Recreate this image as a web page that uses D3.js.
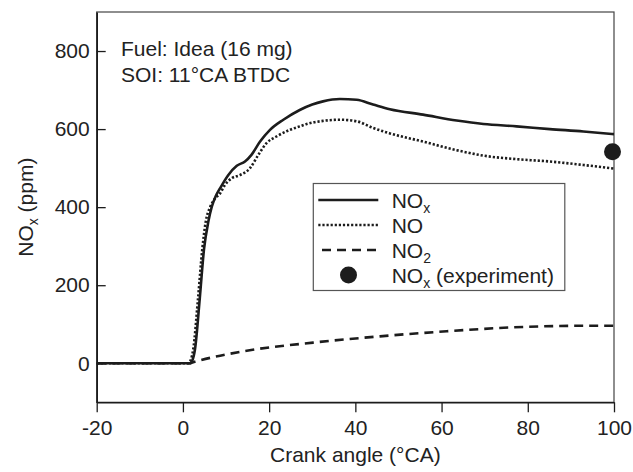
<!DOCTYPE html>
<html><head><meta charset="utf-8">
<script src="https://cdn.jsdelivr.net/npm/d3@7"></script>
<style>
body{margin:0;background:#fff;}
text{font-family:"Liberation Sans",Arial,Helvetica,sans-serif;fill:#222;}
</style></head>
<body><svg id="c" width="633" height="472"></svg>
<script>
// ---- data ----
const xTicks = [-20, 0, 20, 40, 60, 80, 100];
const yTicks = [0, 200, 400, 600, 800];
const noxAngle = [-20,1.6,2.2,2.8,3.9,4.9,5.9,6.7,7.6,8.6,10.5,12.5,14.4,15.9,17.9,20.2,23.3,27.1,30,32.5,36.4,40.3,44.1,48,55.7,63.5,69.7,77.4,85.1,92.9,100];
const noxValue = [0,0,8,36,165,293,363,401,428,448,482,506,517,534,568,598,624,649,663,671,677,675,663,651,637,622,613,607,600,594,587];
const noAngle = [-20,1.2,1.8,2.4,3.5,4.5,5.3,6.3,7.3,8.6,9.7,11.3,13.2,15.5,17.5,19.4,21.7,24.8,27.1,28.7,32.5,36.4,40.3,44.1,48,55.7,63.5,69.7,77.4,85.1,92.9,100];
const noValue = [0,0,8,36,165,293,363,400,420,435,456,474,482,499,534,564,581,598,607,613,621,624,620,603,589,568,546,532,523,517,508,499];
const no2Angle = [-20,1.6,2.2,14.8,30.2,45.7,61.2,76.6,92.1,100];
const no2Value = [0,0,2,32,53,69,82,92,96,96];
const expAngle = [100];
const expValue = [542];

// ---- layout ----
const L = 96.7, R = 614, T = 12, B = 402.3;
const svg = d3.select("#c");
const x = d3.scaleLinear().domain([-20, 100]).range([L, R]);
const y = d3.scaleLinear().domain([-100, 900]).range([B, T]);
const ink = "#1c1c1c";

// frame
svg.append("rect").attr("x", L).attr("y", T).attr("width", R - L).attr("height", B - T)
  .attr("fill", "none").attr("stroke", "#444").attr("stroke-width", 1.2);

// axes
const xa = svg.append("g").attr("transform", `translate(0,${B})`)
  .call(d3.axisBottom(x).tickValues(xTicks).tickSizeInner(10).tickSizeOuter(0).tickPadding(8).tickFormat(d => String(d)));
const ya = svg.append("g").attr("transform", `translate(${L},0)`)
  .call(d3.axisLeft(y).tickValues(yTicks).tickSizeInner(-9).tickSizeOuter(0).tickPadding(7).tickFormat(d => String(d)));
[xa, ya].forEach(g => {
  g.select(".domain").attr("stroke", ink).attr("stroke-width", 1.6);
  g.selectAll(".tick line").attr("stroke", ink).attr("stroke-width", 1.3);
  g.selectAll(".tick text").attr("font-size", 21).attr("fill", "#222")
    .style("font-family", "'Liberation Sans',Arial,sans-serif");
});

// lines
const clip = svg.append("clipPath").attr("id", "cp").append("rect")
  .attr("x", L).attr("y", T).attr("width", R - L).attr("height", B - T);
function pts(a, v) { return a.map((d, i) => [d, v[i]]); }
const line = d3.line().x(d => x(d[0])).y(d => y(d[1])).curve(d3.curveMonotoneX);
const plot = svg.append("g").attr("clip-path", "url(#cp)");
plot.append("path").attr("d", line(pts(no2Angle, no2Value))).attr("fill", "none")
  .attr("stroke", ink).attr("stroke-width", 2.6).attr("stroke-dasharray", "9,6");
plot.append("path").attr("d", line(pts(noAngle, noValue))).attr("fill", "none")
  .attr("stroke", ink).attr("stroke-width", 2.6).attr("stroke-dasharray", "2.2,1.9");
plot.append("path").attr("d", line(pts(noxAngle, noxValue))).attr("fill", "none")
  .attr("stroke", ink).attr("stroke-width", 2.6);
svg.selectAll("circle.exp").data(pts(expAngle, expValue)).enter().append("circle")
  .attr("class", "exp").attr("cx", d => x(d[0]) - 1.5).attr("cy", d => y(d[1])).attr("r", 8.5).attr("fill", ink);

// annotation
svg.append("text").attr("x", 121).attr("y", 56).attr("font-size", 21).text("Fuel: Idea (16 mg)");
svg.append("text").attr("x", 121).attr("y", 81.7).attr("font-size", 21).text("SOI: 11\u00B0CA BTDC");

// axis titles
svg.append("text").attr("x", x(40)).attr("y", 462).attr("text-anchor", "middle").attr("font-size", 21)
  .text("Crank angle (\u00B0CA)");
const yt = svg.append("text").attr("transform", `translate(33,${(T + B) / 2}) rotate(-90)`)
  .attr("text-anchor", "middle").attr("font-size", 21);
yt.append("tspan").text("NO");
yt.append("tspan").attr("font-size", 14).attr("dy", 5).text("x");
yt.append("tspan").attr("dy", -5).text(" (ppm)");

// legend
const lg = svg.append("g");
lg.append("rect").attr("x", 313.3).attr("y", 183.5).attr("width", 251.5).attr("height", 107)
  .attr("fill", "#fff").attr("stroke", "#555").attr("stroke-width", 1.2);
const rows = [
  {y: 200, type: "solid", main: "NO", sub: "x", rest: ""},
  {y: 225, type: "dot", main: "NO", sub: "", rest: ""},
  {y: 250, type: "dash", main: "NO", sub: "2", rest: ""},
  {y: 275, type: "circle", main: "NO", sub: "x", rest: " (experiment)"}
];
rows.forEach(r => {
  if (r.type === "circle") {
    lg.append("circle").attr("cx", 348.5).attr("cy", r.y).attr("r", 8.5).attr("fill", ink);
  } else {
    const p = lg.append("line").attr("x1", 318.3).attr("x2", 378.3).attr("y1", r.y).attr("y2", r.y)
      .attr("stroke", ink).attr("stroke-width", 2.6);
    if (r.type === "dot") p.attr("stroke-dasharray", "2.2,1.9");
    if (r.type === "dash") p.attr("x1", 322).attr("stroke-dasharray", "9,6");
  }
  const t = lg.append("text").attr("x", 391.7).attr("y", r.y + 7.5).attr("font-size", 21);
  t.append("tspan").text(r.main);
  if (r.sub) t.append("tspan").attr("font-size", 14).attr("dy", 5).text(r.sub);
  if (r.rest) t.append("tspan").attr("dy", -5).text(r.rest);
});
</script></body></html>
